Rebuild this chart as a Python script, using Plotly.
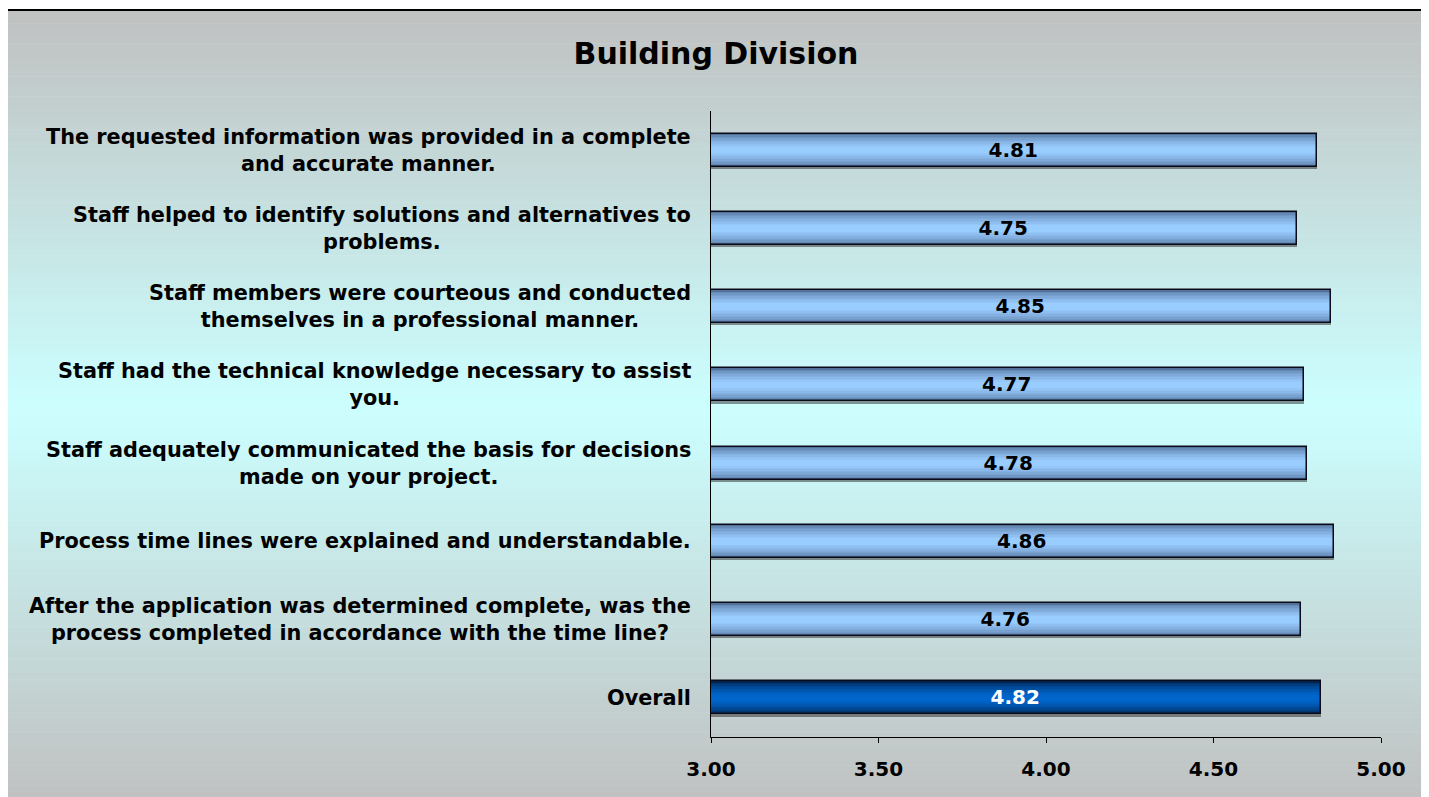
import plotly.graph_objects as go

title = "Building Division"
categories = [
    "The requested information was provided in a complete<br>and accurate manner.",
    "Staff helped to identify solutions and alternatives to<br>problems.",
    "Staff members were courteous and conducted<br>themselves in a professional manner.",
    "Staff had the technical knowledge necessary to assist<br>you.",
    "Staff adequately communicated the basis for decisions<br>made on your project.",
    "Process time lines were explained and understandable.",
    "After the application was determined complete, was the<br>process completed in accordance with the time line?",
    "Overall",
]
values = [4.81, 4.75, 4.85, 4.77, 4.78, 4.86, 4.76, 4.82]
x_ticks = [3.00, 3.50, 4.00, 4.50, 5.00]
x_min, x_max = 3.0, 5.0

# page body has an 8px default margin: work in screen px and subtract it
OFF = 8
W, H = 1429 - OFF, 797 - OFF
ML = 711 - OFF
MT = 111 - OFF
MR = W - (1381 - OFF)
MB = H - (737 - OFF)
PW, PH = W - ML - MR, H - MT - MB

FONT = "DejaVu Sans, Verdana, Arial"

def hx(c):
    c = c.lstrip("#")
    return tuple(int(c[i:i + 2], 16) for i in (0, 2, 4))

def mix(a, b, t):
    a, b = hx(a), hx(b)
    return "rgb(%d,%d,%d)" % tuple(round(a[i] + (b[i] - a[i]) * t) for i in range(3))

def sx(px):  # screen px -> paper x
    return (px - OFF - ML) / PW

def sy(py):  # screen px -> paper y
    return 1 - (py - OFF - MT) / PH

shapes = []
top_px, bot_px = 10, 805
n_bands = 120
for i in range(n_bands):
    y0 = top_px + (bot_px - top_px) * i / n_bands
    y1 = top_px + (bot_px - top_px) * (i + 1) / n_bands + 0.6
    t = (i + 0.5) / n_bands
    tt = 1 - abs(t - 0.5) * 2
    col = mix("#C0C0C0", "#CCFFFF", tt)
    shapes.append(dict(type="rect", xref="paper", yref="paper",
                       x0=sx(7), x1=sx(1425), y0=sy(y1), y1=sy(y0),
                       fillcolor=col, line=dict(width=0), layer="below"))
shapes.append(dict(type="rect", xref="paper", yref="paper",
                   x0=sx(7), x1=sx(1425), y0=sy(815), y1=sy(10),
                   fillcolor="rgba(0,0,0,0)", line=dict(color="black", width=2), layer="below"))

is_overall = [c == "Overall" for c in categories]
light_edge, light_mid = "#52729A", "#99CCFF"
dark_edge, dark_mid = "#002350", "#0066CC"

fig = go.Figure()
bar_w = 0.42
lengths = [v - x_min for v in values]

# soft shadow
fig.add_trace(go.Bar(y=categories, x=lengths, base=x_min, orientation="h", width=bar_w,
                     offset=-bar_w / 2 + 0.03,
                     marker=dict(color="rgba(40,40,40,0.5)", line=dict(width=0)),
                     hoverinfo="skip", showlegend=False))

layers = 10
for k in range(layers):
    t = k / (layers - 1)
    w = bar_w * (1 - t * 0.8)
    cols = [mix(dark_edge, dark_mid, t ** 0.6) if o else mix(light_edge, light_mid, t ** 0.6)
            for o in is_overall]
    fig.add_trace(go.Bar(y=categories, x=lengths, base=x_min, orientation="h", width=w,
                         marker=dict(color=cols, line=dict(width=0)),
                         hoverinfo="skip", showlegend=False))

fig.add_trace(go.Bar(
    y=categories, x=lengths, base=x_min, orientation="h", width=bar_w,
    marker=dict(color="rgba(0,0,0,0)", line=dict(color="#0A0A1A", width=1.5)),
    text=["%.2f" % v for v in values], textposition="inside", insidetextanchor="middle",
    constraintext="none",
    textfont=dict(family=FONT, size=20, weight="bold",
                  color=["white" if o else "black" for o in is_overall]),
    hovertemplate="%{y}: %{text}<extra></extra>", showlegend=False))

annotations = []
for c in categories:
    annotations.append(dict(x=sx(693), xref="paper", y=c, yref="y",
                            text=c, showarrow=False, xanchor="right", yanchor="middle",
                            align="center",
                            font=dict(family=FONT, size=20.8, weight="bold", color="black")))

fig.update_layout(
    width=W, height=H,
    margin=dict(l=ML, r=MR, t=MT, b=MB, pad=0),
    paper_bgcolor="white", plot_bgcolor="rgba(0,0,0,0)",
    barmode="overlay", bargap=0,
    shapes=shapes, annotations=annotations,
    title=dict(text=title, x=sx(716), xref="paper",
               xanchor="center", y=sy(53) * PH / H + MB / H, yref="container", yanchor="middle",
               font=dict(family=FONT, size=30, weight="bold", color="black")),
    font=dict(family=FONT, color="black"),
    xaxis=dict(range=[x_min, x_max], tickvals=x_ticks, ticktext=["%.2f" % t for t in x_ticks],
               showgrid=False, zeroline=False, showline=True, linecolor="black", linewidth=1,
               ticks="outside", ticklen=5, tickcolor="black", ticklabelstandoff=9,
               tickfont=dict(size=20, family=FONT, weight="bold"), fixedrange=True),
    yaxis=dict(categoryorder="array", categoryarray=categories, autorange="reversed",
               showticklabels=False, showgrid=False, zeroline=False, showline=True,
               linecolor="black", linewidth=1, ticks="", fixedrange=True),
)
fig.write_html("out.html")
